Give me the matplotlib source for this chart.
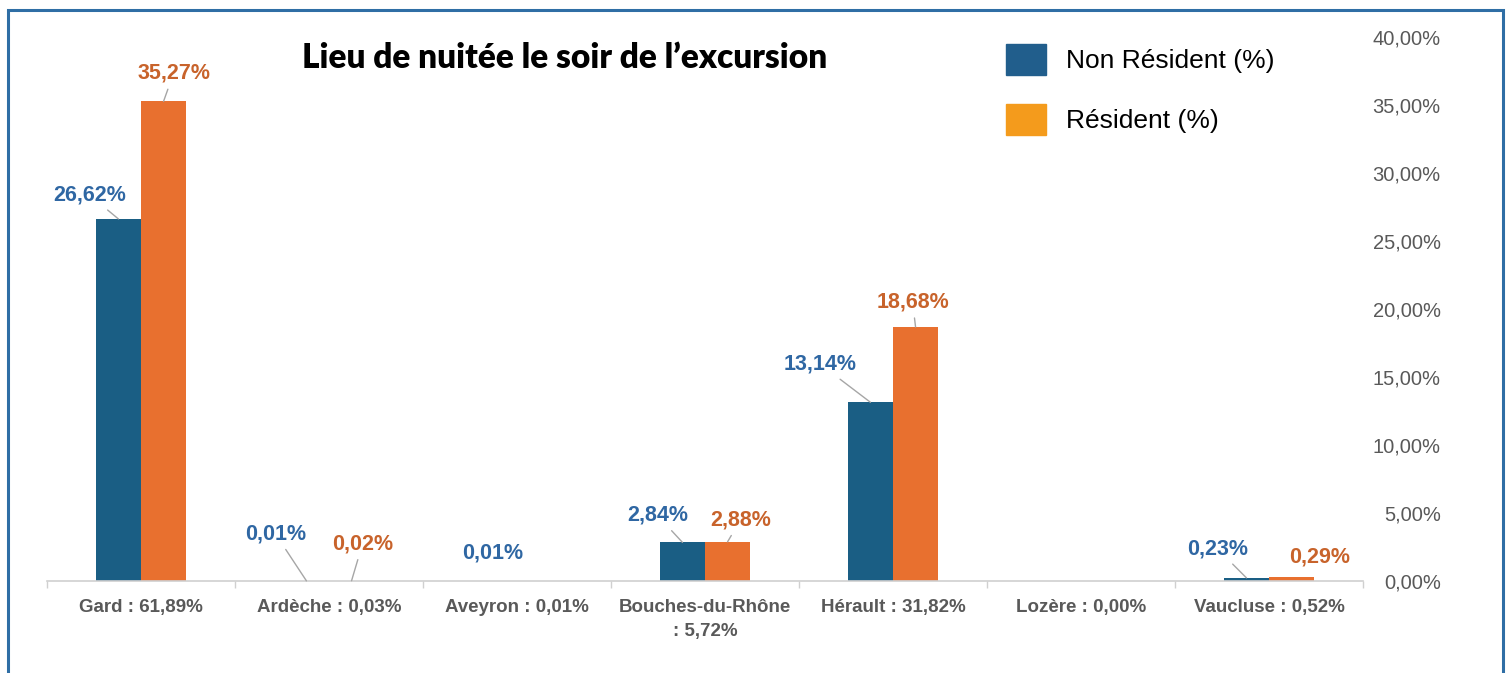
import matplotlib.pyplot as plt
import matplotlib.patches as mpatches
import numpy as np

categories = ["Gard : 61,89%", "Ardèche : 0,03%", "Aveyron : 0,01%", "Bouches-du-Rhône\n: 5,72%",
              "Hérault : 31,82%", "Lozère : 0,00%", "Vaucluse : 0,52%"]
non_resident = [26.62, 0.01, 0.01, 2.84, 13.14, 0.00, 0.23]
resident = [35.27, 0.02, 0.00, 2.88, 18.68, 0.00, 0.29]
y_ticks = [0, 5, 10, 15, 20, 25, 30, 35, 40]

# label offsets in pixels from the bar top, and whether a leader line is drawn
nr_offsets = [(-29, 24, True), (-31, 47, True), (-2, 28, False), (-25, 27, True),
              (-50, 38, True), (0, 0, False), (-29, 29, True)]
r_offsets = [(10, 28, True), (11, 37, True), (0, 0, False), (13, 22, True),
             (-3, 25, True), (0, 0, False), (28, 20, False)]

W, H = 1507, 673
fig = plt.figure(figsize=(W / 100, H / 100), dpi=100)
plt.rcParams['font.family'] = ['Liberation Sans', 'DejaVu Sans']

ax = fig.add_axes([47 / W, (H - 581) / H, (1363 - 47) / W, (581 - 37) / H])

blue_bar = '#1a5e84'
orange_bar = '#e8702f'
blue_txt = '#2f67a3'
orange_txt = '#c8632b'
gray = '#595959'

x = np.arange(len(categories))
bw = 0.24
b1 = ax.bar(x - bw / 2, non_resident, bw, color=blue_bar)
b2 = ax.bar(x + bw / 2, resident, bw, color=orange_bar)

def fmt(v):
    return f"{v:.2f}".replace('.', ',') + '%'

for bars, vals, offs, col in [(b1, non_resident, nr_offsets, blue_txt),
                              (b2, resident, r_offsets, orange_txt)]:
    for rect, v, (dx, dy, line) in zip(bars, vals, offs):
        if v <= 0:
            continue
        xy = (rect.get_x() + rect.get_width() / 2, rect.get_height())
        ap = dict(arrowstyle='-', color='#a6a6a6', lw=1, shrinkA=2, shrinkB=0) if line else None
        ax.annotate(fmt(v), xy=xy, xytext=(dx, dy), textcoords='offset pixels',
                    ha='center', va='center', fontsize=15.5, fontweight='bold', color=col,
                    arrowprops=ap)

ax.set_xlim(-0.5, len(categories) - 0.5)
ax.set_ylim(0, 40)
ax.set_xticks(x)
ax.set_xticklabels(categories, fontsize=13.5, fontweight='bold', color=gray, linespacing=1.55)
ax.tick_params(axis='x', length=0, pad=13)
ax.set_xticks(np.arange(len(categories) + 1) - 0.5, minor=True)
ax.tick_params(axis='x', which='minor', length=5, color='#d0d0d0', width=1)

ax.yaxis.tick_right()
ax.set_yticks(y_ticks)
ax.set_yticklabels([fmt(t) for t in y_ticks], fontsize=14.5, color=gray, ha='right')
ax.tick_params(axis='y', length=0, pad=56)

for s in ['top', 'left', 'right']:
    ax.spines[s].set_visible(False)
ax.spines['bottom'].set_color('#d0d0d0')
ax.spines['bottom'].set_linewidth(1.2)

fig.text(565 / W, 1 - 58 / H, "Lieu de nuitée le soir de l’excursion", ha='center', va='center',
         fontsize=24, fontweight='heavy', color='black', family=['Lato', 'DejaVu Sans'])

handles = [mpatches.Patch(color='#215e8c', label='Non Résident (%)'),
           mpatches.Patch(color='#f49b1c', label='Résident (%)')]
fig.legend(handles=handles, loc='upper left', bbox_to_anchor=(1006 / W, 1 - 44 / H),
           frameon=False, fontsize=19, handlelength=1.52, handleheight=1.43,
           handletextpad=0.76, labelspacing=1.1, borderpad=0, borderaxespad=0)

frame = mpatches.Rectangle((8 / W, -0.1), (1503 - 8) / W, 1.1 - 10 / H, transform=fig.transFigure,
                           fill=False, edgecolor='#2f6ea5', lw=2.2, clip_on=False)
fig.patches.append(frame)

fig.savefig('out.png', dpi=100)
